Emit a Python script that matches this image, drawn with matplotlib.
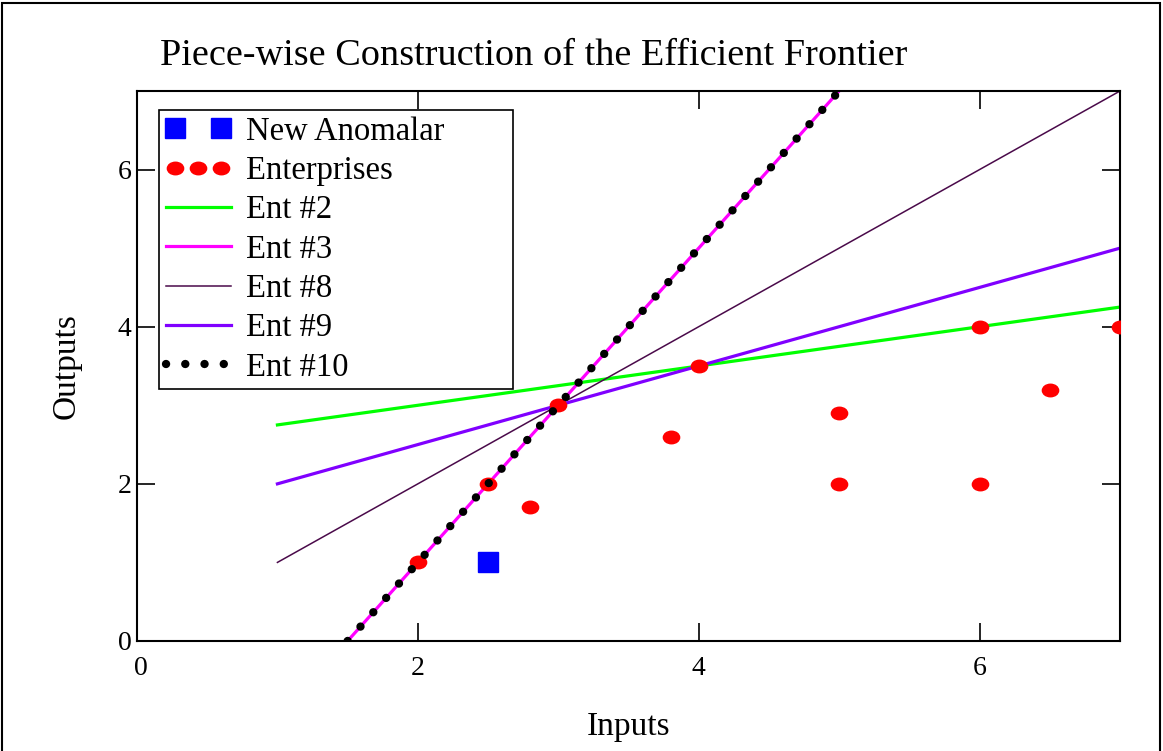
import matplotlib
matplotlib.use("Agg")
import matplotlib.pyplot as plt
from matplotlib.legend_handler import HandlerLine2D
from matplotlib.markers import MarkerStyle
from matplotlib.transforms import Affine2D
from matplotlib.patches import Rectangle

#---------------------------------------------------------------------------------------------------------------------------#
# data

new_x = [2.5]
new_y = [1.0]

ent_x = [2.0, 2.5, 2.8, 3.0, 3.8, 4.0, 5.0, 5.0, 6.0, 6.0, 6.5, 7.0]
ent_y = [1.0, 2.0, 1.7, 3.0, 2.6, 3.5, 2.9, 2.0, 4.0, 2.0, 3.2, 4.0]

line_x = [1.0, 7.0]
ent2_y = [2.75, 4.25]
ent8_y = [1.0, 7.0]
ent9_y = [2.0, 5.0]

steep_x = [1.5, 7.0]
ent3_y = [0.0, 11.0]
ent10_y = [0.0, 11.0]

ticks = [0, 2, 4, 6]

#---------------------------------------------------------------------------------------------------------------------------#

plt.rcParams['font.family'] = ['Liberation Serif', 'DejaVu Serif']

fig = plt.figure(figsize=(11.63, 7.51), dpi=100)
ax = fig.add_axes([0.1178, 0.1465, 0.8452, 0.7323])

ellipse = MarkerStyle('o', transform=Affine2D().scale(1.3, 1.0))

ax.plot(new_x, new_y, linestyle='none', marker='s', markersize=14, color='#0000ff',
        label='New Anomalar', zorder=5)
ax.plot(ent_x, ent_y, linestyle='none', marker=ellipse, markersize=9, color='#ff0000',
        label='Enterprises', zorder=4)
ax.plot(line_x, ent2_y, color='#00ff00', lw=2.3, label='Ent #2')
ax.plot(steep_x, ent3_y, color='#ff00ff', lw=2.3, label='Ent #3')
ax.plot(line_x, ent8_y, color='#4a0a4a', lw=1.1, label='Ent #8')
ax.plot(line_x, ent9_y, color='#8000ff', lw=2.3, label='Ent #9')
ax.plot(steep_x, ent10_y, color='black', lw=6.0, linestyle=(0, (0.01, 2.3)),
        dash_capstyle='round', label='Ent #10', zorder=6)

ax.set_xlim(0, 7)
ax.set_ylim(0, 7)
ax.set_xticks(ticks)
ax.set_yticks(ticks)
ax.tick_params(direction='in', length=13, width=1.2, top=True, right=True,
               labelsize=20)
ax.tick_params(axis='x', pad=11)
ax.tick_params(axis='y', pad=4)
ax.set_xticklabels([' 0', '2', '4', '6'])
for s in ax.spines.values():
    s.set_linewidth(1.5)

ax.set_xlabel('Inputs', fontsize=24, labelpad=22)
ax.set_ylabel('Outputs', fontsize=24, labelpad=26)
ax.set_title('Piece-wise Construction of the Efficient Frontier', fontsize=27.5,
             loc='left', x=0.023, pad=19)

# legend box is wider than its text in the reference, so let it expand to a fixed width
leg = ax.legend(loc='upper left', bbox_to_anchor=(0.0224, 0.0, 0.360, 0.966),
                mode='expand', fontsize=23.5,
                handlelength=2.0, handletextpad=0.45, labelspacing=0.27,
                borderpad=0.2, borderaxespad=0, fancybox=False, framealpha=1,
                handler_map={ax.lines[0]: HandlerLine2D(numpoints=2),
                             ax.lines[1]: HandlerLine2D(numpoints=3)})
leg.get_frame().set_edgecolor('black')
leg.get_frame().set_linewidth(1.2)

fig.patches.append(Rectangle((0.002, -0.02), 0.995, 1.016, transform=fig.transFigure,
                             fill=False, edgecolor='black', linewidth=1.5))

fig.savefig('out.png', dpi=100)
